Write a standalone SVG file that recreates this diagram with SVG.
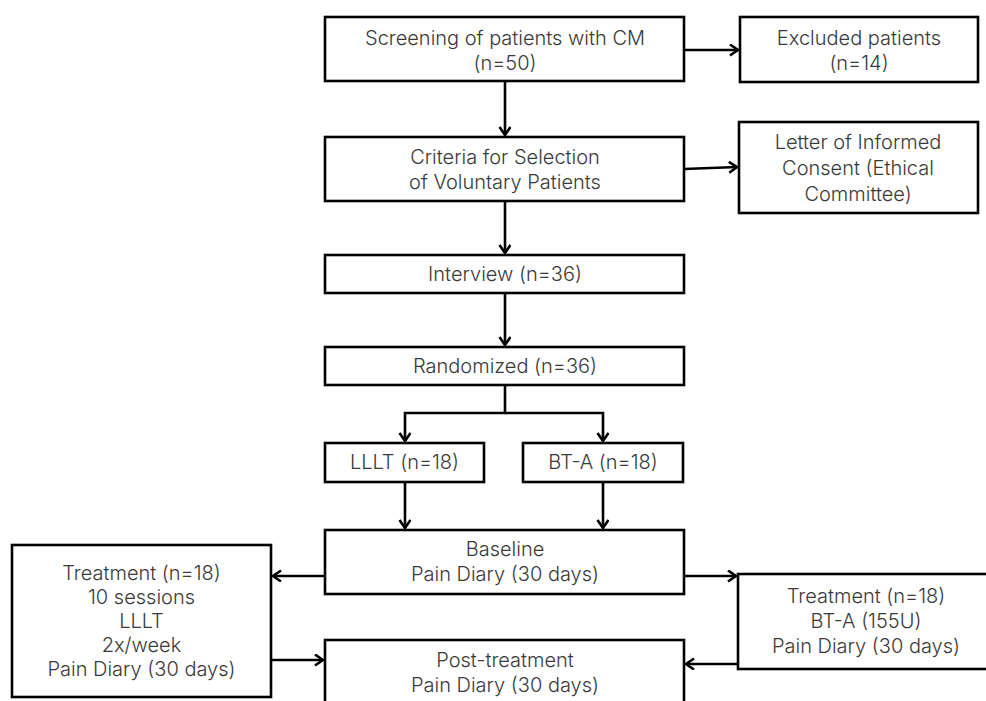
<svg xmlns="http://www.w3.org/2000/svg" width="986" height="701" viewBox="0 0 986 701">
<style>
.box{fill:#fff;stroke:#000;stroke-width:2.6}
.t{font-family:Inter,"Liberation Sans",sans-serif;font-weight:300;font-size:20px;fill:#3a3a3a;text-anchor:middle}
.c{fill:none;stroke:#000;stroke-width:2.6}
</style>
<defs>
<marker id="ah" markerUnits="userSpaceOnUse" markerWidth="12" markerHeight="14" refX="9" refY="6" orient="auto">
<path d="M1,0.5 L9,6 L1,11.5" fill="none" stroke="#000" stroke-width="2.6"/>
</marker>
</defs>
<rect width="986" height="701" fill="#fff"/>
<g id="connectors">
<path class="c" d="M684,50 H738" marker-end="url(#ah)"/>
<path class="c" d="M505,81 V135" marker-end="url(#ah)"/>
<path class="c" d="M684,169 L737,167" marker-end="url(#ah)"/>
<path class="c" d="M505,201 V253" marker-end="url(#ah)"/>
<path class="c" d="M505,293 V345" marker-end="url(#ah)"/>
<path class="c" d="M505,385 V413 H405 V441" marker-end="url(#ah)"/>
<path class="c" d="M505,413 H603 V441" marker-end="url(#ah)"/>
<path class="c" d="M405,482 V528" marker-end="url(#ah)"/>
<path class="c" d="M603,482 V528" marker-end="url(#ah)"/>
<path class="c" d="M325,576 H273" marker-end="url(#ah)"/>
<path class="c" d="M271,660 H323" marker-end="url(#ah)"/>
<path class="c" d="M684,576 H736" marker-end="url(#ah)"/>
<path class="c" d="M738,664 H686" marker-end="url(#ah)"/>
</g>
<g id="screening">
<rect class="box" x="325" y="17" width="359" height="64"/>
<text class="t" x="505" y="45">Screening of patients with CM</text>
<text class="t" x="505" y="70">(n=50)</text>
</g>
<g id="excluded">
<rect class="box" x="740" y="17" width="238" height="65"/>
<text class="t" x="859" y="45">Excluded patients</text>
<text class="t" x="859" y="70">(n=14)</text>
</g>
<g id="criteria">
<rect class="box" x="325" y="137" width="359" height="64"/>
<text class="t" x="505" y="164">Criteria for Selection</text>
<text class="t" x="505" y="189">of Voluntary Patients</text>
</g>
<g id="letter">
<rect class="box" x="739" y="122" width="239" height="91"/>
<text class="t" x="858" y="149">Letter of Informed</text>
<text class="t" x="858" y="175">Consent (Ethical</text>
<text class="t" x="858" y="201">Committee)</text>
</g>
<g id="interview">
<rect class="box" x="325" y="255" width="359" height="38"/>
<text class="t" x="505" y="281">Interview (n=36)</text>
</g>
<g id="randomized">
<rect class="box" x="325" y="347" width="359" height="38"/>
<text class="t" x="505" y="373">Randomized (n=36)</text>
</g>
<g id="lllt">
<rect class="box" x="325" y="443" width="159" height="39"/>
<text class="t" x="404.5" y="469">LLLT (n=18)</text>
</g>
<g id="bta">
<rect class="box" x="523" y="443" width="160" height="39"/>
<text class="t" x="603" y="469">BT-A (n=18)</text>
</g>
<g id="baseline">
<rect class="box" x="325" y="530" width="359" height="64"/>
<text class="t" x="505" y="556">Baseline</text>
<text class="t" x="505" y="581">Pain Diary (30 days)</text>
</g>
<g id="treatment-lllt">
<rect class="box" x="12" y="545" width="259" height="152"/>
<text class="t" x="141.5" y="580">Treatment (n=18)</text>
<text class="t" x="141.5" y="604">10 sessions</text>
<text class="t" x="141.5" y="628">LLLT</text>
<text class="t" x="141.5" y="652">2x/week</text>
<text class="t" x="141.5" y="676">Pain Diary (30 days)</text>
</g>
<g id="post-treatment">
<rect class="box" x="325" y="640" width="359" height="80"/>
<text class="t" x="505" y="667">Post-treatment</text>
<text class="t" x="505" y="692">Pain Diary (30 days)</text>
</g>
<g id="treatment-bta">
<rect class="box" x="738" y="574" width="262" height="95"/>
<text class="t" x="866" y="603">Treatment (n=18)</text>
<text class="t" x="866" y="628">BT-A (155U)</text>
<text class="t" x="866" y="653">Pain Diary (30 days)</text>
</g>
</svg>
